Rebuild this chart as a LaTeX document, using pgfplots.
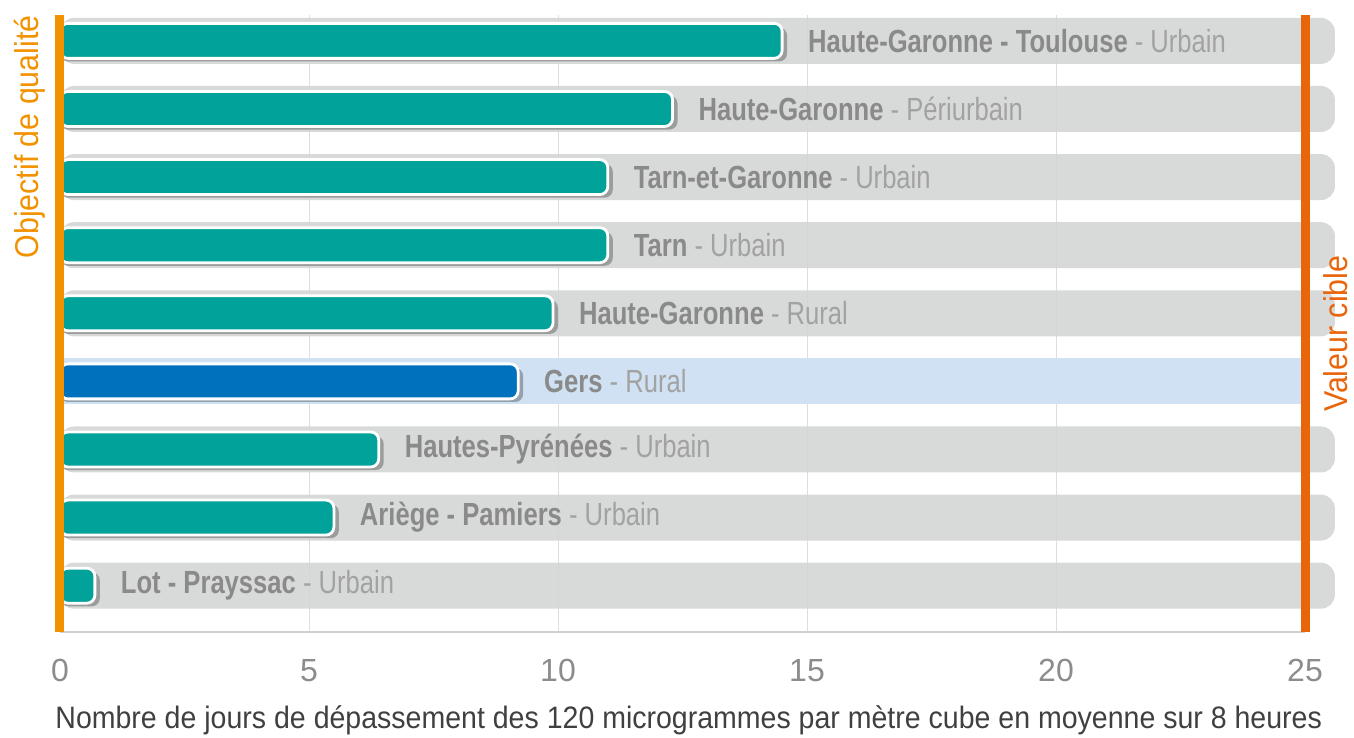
\documentclass[border=0pt]{standalone}
\usepackage{pgfplots}
\pgfplotsset{compat=1.18}
\usepackage{fontspec}
\setmainfont{Liberation Sans}
\newfontfamily\condfont[FakeStretch=0.8]{Liberation Sans}
\newfontfamily\xlabfont[FakeStretch=0.92]{Liberation Sans}

\definecolor{tealbar}{HTML}{00A299}
\definecolor{bluebar}{HTML}{0071BC}
\definecolor{bggrey}{HTML}{D3D4D4}
\definecolor{bgblue}{HTML}{CFE1F2}
\definecolor{orangeL}{HTML}{F39200}
\definecolor{orangeR}{HTML}{E9650B}
\definecolor{labdark}{HTML}{8A8A8A}
\definecolor{lablight}{HTML}{A2A2A2}
\definecolor{ticktxt}{HTML}{8C8C8C}

\begin{document}
\begin{tikzpicture}
\begin{axis}[
    x=24.9pt, y=34.05pt,
    xmin=0, xmax=25,
    ymin=-0.68, ymax=8.38,
    clip=false,
    axis x line*=bottom,
    axis y line=none,
    axis line style={draw=black!18, line width=0.6pt},
    xtick={0,5,...,25},
    ytick=\empty,
    major tick length=0pt,
    xmajorgrids,
    grid style={draw=black!13, line width=0.5pt},
    /pgf/number format/assume math mode=true,
    xticklabel style={font=\fontsize{16}{16}\selectfont, text=ticktxt, yshift=-10pt},
    xlabel={Nombre de jours de dépassement des 120 microgrammes par mètre cube en moyenne sur 8 heures},
    every axis x label/.style={at={(rel axis cs:0.505,0)}, anchor=center, yshift=-44pt,
        font=\xlabfont\fontsize{15.5}{16}\selectfont, text=black!75},
    nodes near coords style={font=\condfont\fontsize{16}{16}\selectfont, text=labdark,
        anchor=west, xshift=9pt},
]
% grey background rows
\addplot[xbar, bar shift=0pt, bar width=23pt, fill=bggrey, fill opacity=0.88, draw=none,
    rounded corners=7pt, forget plot]
    coordinates {(25.6,8) (25.6,7) (25.6,6) (25.6,5) (25.6,4) (25.6,2) (25.6,1) (25.6,0)};
% highlighted row (Gers)
\addplot[xbar, bar shift=0pt, bar width=23pt, fill=bgblue, draw=none, forget plot]
    coordinates {(25.1,3)};
% bar shadows
\addplot[xbar, bar shift=-1.8pt, bar width=17pt, fill=black, fill opacity=0.28, draw=none,
    rounded corners=4pt, forget plot]
    coordinates {(14.6,8) (12.4,7) (11.1,6) (11.1,5) (10.0,4) (9.3,3) (6.5,2) (5.6,1) (0.8,0)};
% teal bars
\addplot[xbar, bar shift=0pt, bar width=17.5pt, fill=tealbar, draw=white, line width=1.4pt,
    rounded corners=4pt, nodes near coords, point meta=explicit symbolic]
    coordinates {
    (14.5,8) [{\bfseries Haute-Garonne - Toulouse \mdseries\color{lablight}- Urbain}]
    (12.3,7) [{\bfseries Haute-Garonne \mdseries\color{lablight}- Périurbain}]
    (11.0,6) [{\bfseries Tarn-et-Garonne \mdseries\color{lablight}- Urbain}]
    (11.0,5) [{\bfseries Tarn \mdseries\color{lablight}- Urbain}]
    (9.9,4)  [{\bfseries Haute-Garonne \mdseries\color{lablight}- Rural}]
    (6.4,2)  [{\bfseries Hautes-Pyrénées \mdseries\color{lablight}- Urbain}]
    (5.5,1)  [{\bfseries Ariège - Pamiers \mdseries\color{lablight}- Urbain}]
    (0.7,0)  [{\bfseries Lot - Prayssac \mdseries\color{lablight}- Urbain}]
    };
% Gers bar
\addplot[xbar, bar shift=0pt, bar width=17.5pt, fill=bluebar, draw=white, line width=1.4pt,
    rounded corners=4pt, nodes near coords, point meta=explicit symbolic]
    coordinates {(9.2,3) [{\bfseries Gers \mdseries\color{lablight}- Rural}]};
% reference lines
\addplot[draw=orangeL, line width=4.5pt, forget plot] coordinates {(0,-0.68) (0,8.38)};
\addplot[draw=orangeR, line width=4.5pt, forget plot] coordinates {(25,-0.68) (25,8.38)};
\node[rotate=90, anchor=south east, font=\xlabfont\fontsize{16.5}{17}\selectfont, text=orangeL,
    inner sep=0pt] at ([xshift=-7pt]rel axis cs:0,1) {Objectif de qualité};
\node[rotate=90, anchor=north, font=\xlabfont\fontsize{16.5}{17}\selectfont, text=orangeR,
    inner sep=0pt] at ([xshift=9pt]axis cs:25,3.7) {Valeur cible};
\coordinate (O) at (axis cs:0,-0.68);
\end{axis}
\pgfresetboundingbox
\path[use as bounding box] ([shift={(-30pt,-53pt)}]O) rectangle ([shift={(647pt,316pt)}]O);
\end{tikzpicture}
\end{document}
